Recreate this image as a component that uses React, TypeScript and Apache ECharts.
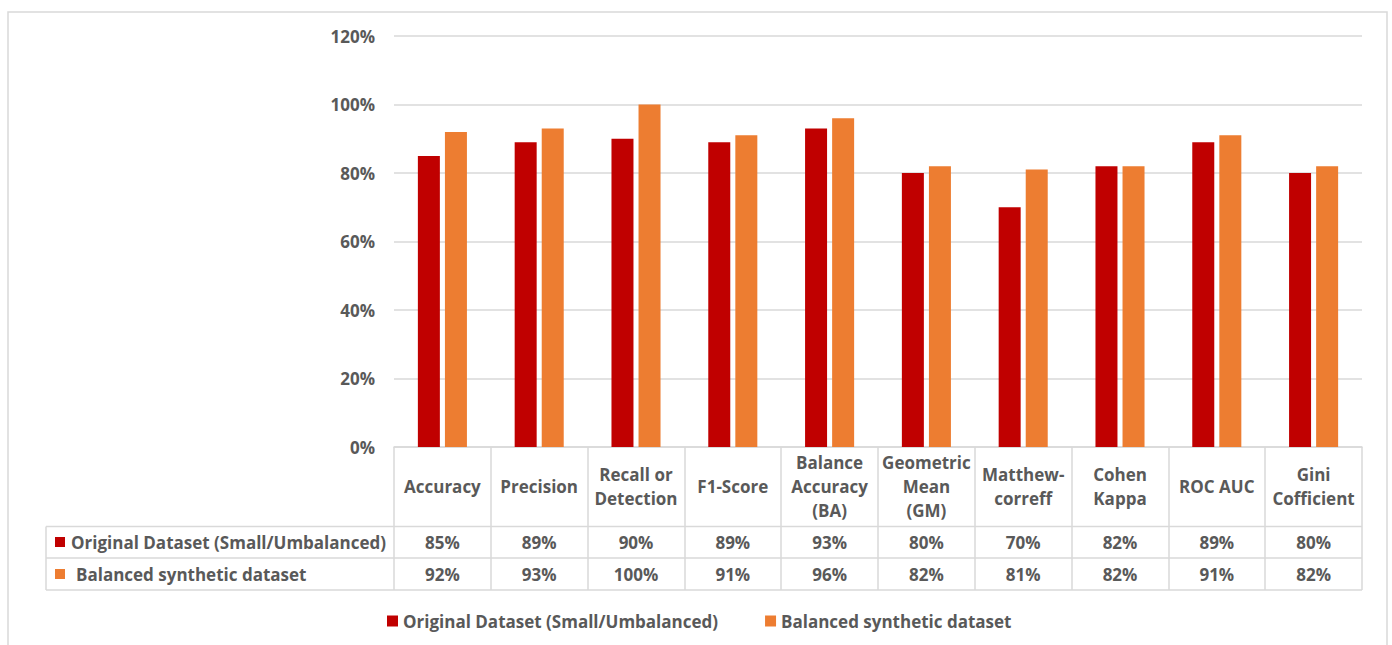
import React, { useEffect, useRef } from "react";
import * as echarts from "echarts";

const categories = [
  "Accuracy",
  "Precision",
  "Recall or\nDetection",
  "F1-Score",
  "Balance\nAccuracy\n(BA)",
  "Geometric\nMean\n(GM)",
  "Matthew-\ncorreff",
  "Cohen\nKappa",
  "ROC AUC",
  "Gini\nCofficient",
];
const originalValues = [0.85, 0.89, 0.9, 0.89, 0.93, 0.8, 0.7, 0.82, 0.89, 0.8];
const balancedValues = [0.92, 0.93, 1.0, 0.91, 0.96, 0.82, 0.81, 0.82, 0.91, 0.82];
const seriesNames = ["Original Dataset (Small/Umbalanced)", "Balanced synthetic dataset"];
const yMin = 0;
const yMax = 1.2;
const yInterval = 0.2;

const RED = "#C00000";
const ORANGE = "#ED7D31";
const TEXT = "#595959";
const LINE = "#D9D9D9";
const FONT = "'Open Sans', Lato, sans-serif";
const FS = 17;

const pct = (v: number) => Math.round(v * 100) + "%";

export default function App() {
  const ref = useRef<HTMLDivElement>(null);
  useEffect(() => {
    if (!ref.current) return;
    const chart = echarts.init(ref.current, undefined, { renderer: "svg" });
    const labelBase = {
      color: TEXT,
      fontFamily: FONT,
      fontSize: FS,
      fontWeight: "bold" as const,
    };
    const tableLine = (x1: number, y1: number, x2: number, y2: number) => ({
      type: "line",
      silent: true,
      shape: { x1, y1, x2, y2 },
      style: { stroke: LINE, lineWidth: 1.5 },
    });
    chart.setOption({
      animation: false,
      grid: { left: 394, right: 30, top: 36, bottom: 198, containLabel: false },
      legend: {
        left: 382,
        top: 606,
        itemWidth: 11,
        itemHeight: 11,
        itemGap: 47,
        icon: "rect",
        data: seriesNames,
        textStyle: { ...labelBase, lineHeight: 20 },
      },
      xAxis: [
        {
          type: "category",
          data: categories,
          position: "bottom",
          axisLine: { show: true, lineStyle: { color: LINE, width: 1.5 } },
          axisTick: { show: true, length: 143, interval: 0, lineStyle: { color: LINE, width: 1.5 } },
          axisLabel: {
            ...labelBase,
            interval: 0,
            margin: 39.5,
            verticalAlign: "middle",
            lineHeight: 24,
            align: "center",
          },
        },
        {
          type: "category",
          data: originalValues.map(pct),
          position: "bottom",
          axisLine: { show: false },
          axisTick: { show: false },
          axisLabel: { ...labelBase, interval: 0, margin: 95, verticalAlign: "middle" },
        },
        {
          type: "category",
          data: balancedValues.map(pct),
          position: "bottom",
          axisLine: { show: false },
          axisTick: { show: false },
          axisLabel: { ...labelBase, interval: 0, margin: 127, verticalAlign: "middle" },
        },
      ],
      yAxis: {
        type: "value",
        min: yMin,
        max: yMax,
        interval: yInterval,
        axisLine: { show: false },
        axisTick: { show: false },
        splitLine: { lineStyle: { color: LINE, width: 1.5 } },
        axisLabel: { ...labelBase, margin: 19, formatter: (v: number) => pct(v) },
      },
      series: [
        {
          type: "bar",
          name: seriesNames[0],
          data: originalValues,
          barWidth: 22,
          barGap: "23%",
          itemStyle: { color: RED },
        },
        {
          type: "bar",
          name: seriesNames[1],
          data: balancedValues,
          barWidth: 22,
          barGap: "23%",
          itemStyle: { color: ORANGE },
        },
      ],
      graphic: [
        {
          type: "rect",
          silent: true,
          shape: { x: 8, y: 12, width: 1379, height: 700 },
          style: { fill: "none", stroke: LINE, lineWidth: 1.5 },
        },
        tableLine(46, 526.5, 1362, 526.5),
        tableLine(46, 558, 1362, 558),
        tableLine(46, 590, 1362, 590),
        tableLine(46, 526.5, 46, 590),
        { type: "rect", silent: true, shape: { x: 55, y: 537, width: 10, height: 10 }, style: { fill: RED } },
        { type: "rect", silent: true, shape: { x: 55, y: 569, width: 10, height: 10 }, style: { fill: ORANGE } },
        {
          type: "text",
          silent: true,
          x: 71,
          y: 542,
          style: { text: seriesNames[0], ...labelBase, fill: TEXT, verticalAlign: "middle" },
        },
        {
          type: "text",
          silent: true,
          x: 76,
          y: 574,
          style: { text: seriesNames[1], ...labelBase, fill: TEXT, verticalAlign: "middle" },
        },
      ],
    });
    return () => chart.dispose();
  }, []);
  return (
    <div
      ref={ref}
      style={{ position: "absolute", left: 0, top: 0, width: 1392, height: 645, background: "#fff" }}
    />
  );
}
